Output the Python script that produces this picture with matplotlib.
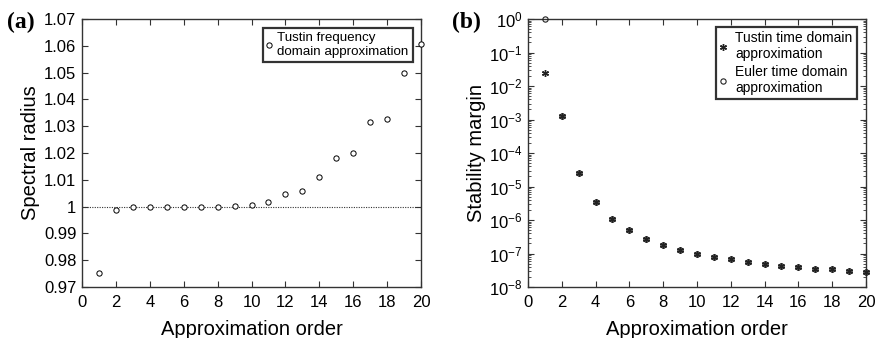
import numpy as np
import matplotlib
matplotlib.use("Agg")
import matplotlib.pyplot as plt
from matplotlib.ticker import LogLocator, NullFormatter

plt.rcParams['font.family'] = ['Liberation Sans', 'DejaVu Sans']
plt.rcParams['mathtext.fontset'] = 'custom'
plt.rcParams['mathtext.rm'] = 'Liberation Sans'

# data
order = list(range(1, 21))
spectral_radius = [0.9752, 0.9988, 1.0000, 1.0000, 1.0000, 1.0000, 1.0000, 1.0000,
                   1.0001, 1.0005, 1.0016, 1.0046, 1.0057, 1.0112, 1.0180, 1.0200,
                   1.0314, 1.0328, 1.0500, 1.0605]
tustin_margin = [2.5e-2, 1.26e-3, 2.5e-5, 3.4e-6, 1.05e-6, 4.9e-7, 2.7e-7, 1.78e-7,
                 1.29e-7, 9.8e-8, 7.9e-8, 6.8e-8, 5.75e-8, 4.9e-8, 4.37e-8, 3.9e-8,
                 3.55e-8, 3.4e-8, 3.0e-8, 2.8e-8]
euler_margin = [1.0, 1.26e-3, 2.5e-5, 3.4e-6, 1.05e-6, 4.9e-7, 2.7e-7, 1.78e-7,
                1.29e-7, 9.8e-8, 7.9e-8, 6.8e-8, 5.75e-8, 4.9e-8, 4.37e-8, 3.9e-8,
                3.55e-8, 3.4e-8, 3.0e-8, 2.8e-8]

W, H = 878, 338
fig = plt.figure(figsize=(W / 100, H / 100), dpi=100)
ax1 = fig.add_axes([82 / W, 1 - 287 / H, (421 - 82) / W, (287 - 19) / H])
ax2 = fig.add_axes([528 / W, 1 - 287 / H, (866 - 528) / W, (287 - 19) / H])

spine_col = '#333333'
for ax in (ax1, ax2):
    for s in ax.spines.values():
        s.set_color(spine_col)
        s.set_linewidth(1.0)
    ax.tick_params(which='both', direction='in', top=True, right=True,
                   labelsize=12, color=spine_col)
    ax.tick_params(axis='x', pad=6)
    ax.tick_params(which='major', length=4)
    ax.tick_params(which='minor', length=2)
    ax.set_xlim(0, 20)
    ax.set_xticks(range(0, 21, 2))
    ax.set_xlabel('Approximation order', fontsize=14.5, labelpad=7)

# (a) spectral radius
ax1.axhline(1.0, color='#333333', linestyle=(0, (1, 1.2)), linewidth=0.8, zorder=1)
ax1.plot(order, spectral_radius, linestyle='none', marker='o', markersize=3.8,
         markerfacecolor='white', markeredgecolor='black', markeredgewidth=0.7,
         label='Tustin frequency\ndomain approximation', clip_on=False, zorder=3)
ax1.set_ylim(0.97, 1.07)
ax1.set_yticks(np.arange(0.97, 1.0701, 0.01))
ax1.set_yticklabels(['0.97', '0.98', '0.99', '1', '1.01', '1.02', '1.03', '1.04',
                     '1.05', '1.06', '1.07'])
ax1.tick_params(axis='y', pad=4)
ax1.set_ylabel('Spectral radius', fontsize=14.5, labelpad=3)
leg1 = ax1.legend(loc='upper right', bbox_to_anchor=(0.975, 0.967), fontsize=9.6,
                  frameon=True, fancybox=False, handlelength=0.4, handletextpad=0.4,
                  borderpad=0.3, borderaxespad=0, labelspacing=0.2)
leg1.get_frame().set_edgecolor('black')
leg1.get_frame().set_linewidth(1.6)

# (b) stability margin
ax2.set_yscale('log')
ax2.plot(order, tustin_margin, linestyle='none', marker=(6, 2, 0), markersize=5,
         color='#222222', markeredgewidth=1.0, label='Tustin time domain\napproximation',
         clip_on=False, zorder=3)
ax2.plot(order, euler_margin, linestyle='none', marker='o', markersize=3.8,
         markerfacecolor='none', markeredgecolor='#222222', markeredgewidth=0.8,
         label='Euler time domain\napproximation', clip_on=False, zorder=3)
ax2.set_ylim(1e-8, 1e0)
ax2.yaxis.set_major_locator(LogLocator(base=10, numticks=20))
ax2.yaxis.set_minor_locator(LogLocator(base=10, subs=np.arange(2, 10), numticks=20))
ax2.yaxis.set_minor_formatter(NullFormatter())
ax2.tick_params(axis='y', pad=4)
ax2.set_ylabel('Stability margin', fontsize=14.5, labelpad=2)
leg2 = ax2.legend(loc='upper right', bbox_to_anchor=(0.972, 0.97), fontsize=10,
                  frameon=True, fancybox=False, handlelength=0.4, handletextpad=0.7,
                  borderpad=0.3, borderaxespad=0, labelspacing=0.25)
leg2.get_frame().set_edgecolor('black')
leg2.get_frame().set_linewidth(1.6)

fig.text(7 / W, 1 - 22 / H, '(a)', fontsize=17, fontweight='bold',
         family='Liberation Serif', va='center', ha='left')
fig.text(452 / W, 1 - 22 / H, '(b)', fontsize=17, fontweight='bold',
         family='Liberation Serif', va='center', ha='left')

fig.savefig('out.png', dpi=100)
